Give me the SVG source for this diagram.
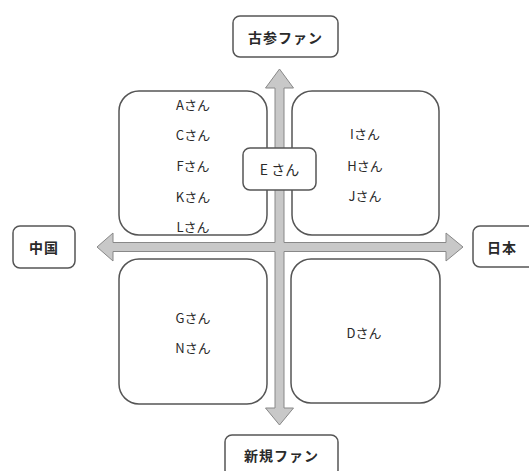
<svg xmlns="http://www.w3.org/2000/svg" width="529" height="471" viewBox="0 0 529 471">
<style>
.box{fill:#fff;stroke:#555;stroke-width:1.5}
.t{font-family:"Noto Sans CJK JP","Noto Sans",sans-serif;font-size:13px;fill:#2a2a2a;text-anchor:middle;dominant-baseline:central}
.h{font-size:14px;font-weight:bold;letter-spacing:1px}
.arrow{fill:#c8c8c8;stroke:#888;stroke-width:1}
</style>
<rect width="529" height="471" fill="#fff"/>
<g id="q-tl"><rect class="box" x="119" y="91" width="148" height="144" rx="20"/>
<text class="t" x="193" y="104">Aさん</text><text class="t" x="193" y="134">Cさん</text><text class="t" x="193" y="165">Fさん</text><text class="t" x="193" y="196">Kさん</text><text class="t" x="193" y="226">Lさん</text></g>
<g id="q-tr"><rect class="box" x="292" y="91" width="147" height="144" rx="20"/>
<text class="t" x="365" y="133">Iさん</text><text class="t" x="365" y="165">Hさん</text><text class="t" x="365" y="195">Jさん</text></g>
<g id="q-bl"><rect class="box" x="119" y="259" width="148" height="145" rx="20"/>
<text class="t" x="193" y="317">Gさん</text><text class="t" x="193" y="347">Nさん</text></g>
<g id="q-br"><rect class="box" x="291" y="259" width="149" height="144" rx="20"/>
<text class="t" x="364" y="332">Dさん</text></g>
<g id="connectors">
<path class="arrow" d="M279.5 69 L293.5 88 L284 88 L284 242.5 L446 242.5 L446 233 L463 247 L446 261 L446 251.5 L284 251.5 L284 408 L293.5 408 L279.5 425 L265.5 408 L275 408 L275 251.5 L113 251.5 L113 261 L97 247 L113 233 L113 242.5 L275 242.5 L275 88 L265.5 88 Z"/>
</g>
<g id="e"><rect class="box" x="243" y="148" width="73" height="42" rx="7"/><text class="t" x="279.5" y="169" style="font-size:14px">E さん</text></g>
<g id="top"><rect class="box" x="233" y="16" width="105" height="41" rx="7"/><text class="t h" x="285.5" y="36.5">古参ファン</text></g>
<g id="bottom"><rect class="box" x="225" y="435" width="113" height="42" rx="7"/><text class="t h" x="281.5" y="455">新規ファン</text></g>
<g id="left"><rect class="box" x="13" y="226" width="62" height="42" rx="7"/><text class="t h" x="44" y="247">中国</text></g>
<g id="right"><rect class="box" x="473" y="226" width="65" height="41" rx="7"/><text class="t h" x="502" y="247">日本</text></g>
</svg>
